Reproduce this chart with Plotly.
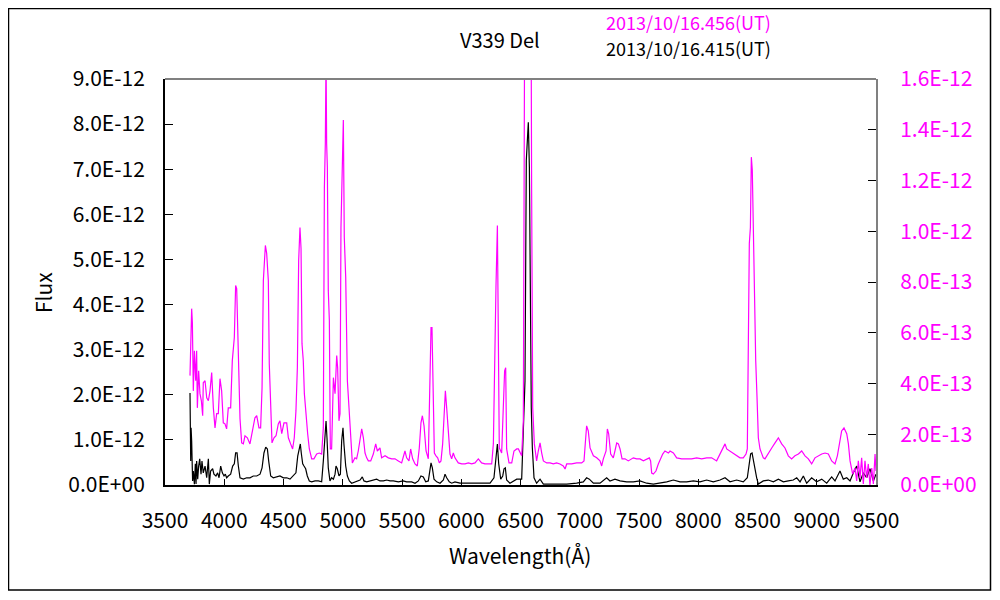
"""V339 Del spectrum, two epochs, left/right flux axes."""

import plotly.graph_objects as go

# magenta spectrum (2013/10/16.456 UT), flux in units of 1e-13 (right axis)
wl_mag = [
    3711, 3717, 3725, 3731, 3739, 3748, 3759, 3767, 3773, 3784, 3795, 3807,
    3818, 3823, 3838, 3852, 3866, 3880, 3894, 3908, 3922, 3936, 3950, 3964,
    3978, 3992, 4006, 4020, 4034, 4054, 4068, 4085, 4096, 4105, 4119, 4133,
    4147, 4161, 4175, 4195, 4217, 4240, 4259, 4274, 4293, 4307, 4319, 4330,
    4347, 4358, 4372, 4380, 4392, 4403, 4420, 4437, 4456, 4470, 4485, 4504,
    4527, 4541, 4560, 4577, 4591, 4605, 4617, 4628, 4639, 4648, 4656, 4667,
    4676, 4687, 4704, 4718, 4738, 4757, 4780, 4802, 4822, 4836, 4845, 4853,
    4859, 4864, 4870, 4878, 4887, 4895, 4906, 4921, 4935, 4949, 4957, 4968,
    4977, 4985, 4994, 5005, 5013, 5025, 5039, 5053, 5067, 5081, 5103, 5117,
    5131, 5146, 5160, 5174, 5188, 5202, 5216, 5236, 5258, 5278, 5292, 5314,
    5328, 5357, 5385, 5413, 5441, 5469, 5497, 5525, 5539, 5559, 5573, 5590,
    5610, 5629, 5646, 5660, 5672, 5686, 5703, 5722, 5736, 5745, 5753, 5762,
    5773, 5787, 5801, 5815, 5829, 5843, 5857, 5866, 5877, 5891, 5905, 5919,
    5933, 5947, 5975, 6004, 6032, 6060, 6088, 6116, 6144, 6172, 6200, 6229,
    6257, 6271, 6285, 6293, 6305, 6313, 6321, 6341, 6355, 6366, 6375, 6383,
    6403, 6426, 6445, 6468, 6482, 6510, 6524, 6535, 6550, 6563, 6575, 6585,
    6594, 6603, 6617, 6636, 6650, 6665, 6679, 6693, 6721, 6749, 6777, 6805,
    6833, 6861, 6876, 6890, 6932, 6974, 7016, 7036, 7044, 7058, 7072, 7087,
    7115, 7143, 7171, 7185, 7199, 7222, 7233, 7244, 7261, 7283, 7297, 7312,
    7326, 7340, 7357, 7382, 7410, 7452, 7480, 7508, 7537, 7565, 7587, 7598,
    7607, 7621, 7643, 7663, 7683, 7700, 7719, 7748, 7762, 7790, 7818, 7860,
    7902, 7944, 7987, 8029, 8071, 8113, 8155, 8184, 8206, 8226, 8240, 8268,
    8296, 8324, 8352, 8380, 8403, 8414, 8423, 8431, 8440, 8448, 8456, 8465,
    8473, 8485, 8496, 8507, 8521, 8535, 8549, 8563, 8591, 8620, 8648, 8676,
    8704, 8732, 8760, 8788, 8816, 8845, 8873, 8901, 8929, 8957, 8985, 9013,
    9042, 9070, 9098, 9126, 9154, 9174, 9191, 9210, 9230, 9253, 9267, 9281,
    9303, 9323, 9337, 9351, 9365, 9379, 9393, 9407, 9421, 9435, 9449, 9464,
    9478, 9492, 9500,
]
flux_mag = [
    4.31, 6.20, 6.95, 6.40, 3.71, 5.29, 4.11, 5.29, 3.04, 4.50, 3.60, 3.32,
    2.73, 4.03, 4.11, 3.44, 3.32, 3.71, 4.43, 3.04, 2.25, 2.81, 2.81, 4.19,
    3.71, 2.45, 2.41, 2.21, 3.04, 3.04, 4.90, 5.81, 7.86, 7.74, 5.02, 2.61,
    1.66, 1.62, 1.94, 1.86, 1.62, 2.25, 2.65, 2.73, 2.25, 2.25, 3.83, 8.06,
    9.44, 9.13, 8.06, 4.78, 3.04, 1.66, 1.86, 1.94, 2.41, 2.53, 2.02, 2.45,
    2.45, 1.86, 1.62, 1.42, 1.86, 2.92, 4.62, 8.85, 10.15, 9.32, 5.57, 4.90,
    3.60, 2.92, 2.02, 1.42, 1.03, 1.03, 1.22, 1.26, 1.22, 2.25, 11.73, 13.47,
    17.0, 13.47, 12.52, 7.66, 6.48, 1.42, 1.42, 4.23, 3.60, 5.10, 4.62, 2.53,
    2.81, 10.15, 11.81, 14.38, 9.76, 8.18, 4.11, 3.12, 2.02, 0.87, 1.07, 1.03,
    1.34, 1.82, 2.21, 1.86, 1.26, 1.07, 0.95, 0.95, 1.22, 1.62, 1.34, 1.46,
    1.07, 1.15, 1.07, 1.03, 1.03, 0.95, 0.87, 1.34, 1.07, 0.95, 1.42, 1.03,
    0.83, 0.75, 1.46, 2.45, 2.73, 2.33, 1.34, 1.03, 3.60, 6.20, 6.20, 4.23,
    1.26, 1.15, 1.07, 0.87, 0.95, 1.62, 2.81, 3.71, 3.04, 2.25, 1.22, 1.03,
    1.26, 1.07, 0.87, 0.83, 0.83, 0.87, 0.83, 0.87, 1.03, 0.87, 0.83, 0.83,
    0.83, 1.62, 6.87, 7.78, 10.23, 5.18, 1.46, 1.26, 2.92, 4.50, 4.62, 1.42,
    0.87, 0.87, 1.34, 1.42, 1.42, 1.15, 2.53, 20.0, 40.0, 50.0, 40.0, 25.0,
    11.50, 3.04, 1.62, 0.95, 1.34, 1.66, 1.26, 0.95, 0.87, 0.87, 0.83, 0.87,
    0.83, 0.75, 0.63, 0.83, 0.83, 0.87, 0.87, 0.95, 1.46, 2.33, 2.13, 1.46,
    1.15, 1.07, 0.95, 0.75, 1.03, 1.34, 2.21, 2.02, 1.22, 1.07, 1.34, 1.66,
    1.62, 1.42, 1.03, 1.03, 0.95, 1.07, 1.03, 1.03, 0.95, 1.03, 1.07, 0.95,
    0.47, 0.43, 0.55, 0.83, 1.03, 1.22, 1.34, 1.26, 1.34, 1.26, 1.07, 1.03,
    1.03, 1.03, 1.07, 1.03, 1.07, 1.07, 0.95, 1.22, 1.42, 1.62, 1.42, 1.34,
    1.26, 1.15, 1.07, 1.07, 1.22, 1.42, 4.62, 9.52, 10.15, 12.92, 12.41, 9.64,
    6.99, 4.90, 3.44, 1.86, 1.42, 1.22, 1.07, 1.03, 1.26, 1.46, 1.66, 1.86,
    1.62, 1.46, 1.15, 1.03, 1.15, 1.22, 1.34, 1.15, 1.03, 0.83, 1.07, 1.15,
    1.22, 1.26, 1.22, 0.95, 0.83, 1.15, 1.62, 2.13, 2.25, 2.02, 1.62, 0.95,
    0.43, 0.67, 0.16, 0.95, 0.28, 1.07, 0.04, 0.95, 0.28, 0.83, 0.00, 0.67,
    0.04, 1.22, 0.55,
]

# black spectrum (2013/10/16.415 UT), flux in units of 1e-12 (left axis)
wl_blk = [
    3711, 3717, 3720, 3725, 3733, 3739, 3748, 3756, 3762, 3767, 3776, 3784,
    3793, 3804, 3812, 3823, 3838, 3852, 3866, 3874, 3885, 3902, 3913, 3930,
    3944, 3956, 3970, 3984, 3998, 4009, 4020, 4034, 4054, 4071, 4085, 4096,
    4108, 4119, 4133, 4161, 4189, 4217, 4245, 4274, 4302, 4319, 4335, 4350,
    4364, 4375, 4392, 4414, 4442, 4470, 4499, 4527, 4555, 4583, 4605, 4620,
    4634, 4642, 4650, 4662, 4673, 4687, 4701, 4718, 4738, 4766, 4794, 4822,
    4836, 4850, 4859, 4867, 4878, 4892, 4906, 4921, 4935, 4943, 4954, 4968,
    4980, 4991, 5002, 5010, 5025, 5039, 5056, 5075, 5103, 5146, 5165, 5179,
    5202, 5230, 5258, 5286, 5314, 5343, 5371, 5399, 5427, 5469, 5511, 5539,
    5582, 5610, 5638, 5660, 5680, 5700, 5722, 5736, 5745, 5756, 5770, 5793,
    5821, 5849, 5863, 5877, 5899, 5919, 5947, 5989, 6032, 6074, 6130, 6186,
    6243, 6276, 6293, 6305, 6316, 6333, 6350, 6361, 6372, 6383, 6411, 6440,
    6468, 6510, 6524, 6538, 6549, 6558, 6566, 6575, 6583, 6591, 6600, 6614,
    6636, 6665, 6693, 6749, 6819, 6890, 6974, 7030, 7058, 7081, 7115, 7171,
    7227, 7255, 7297, 7340, 7396, 7452, 7508, 7565, 7621, 7677, 7734, 7790,
    7846, 7902, 7959, 8015, 8071, 8127, 8184, 8226, 8268, 8324, 8380, 8414,
    8428, 8442, 8454, 8465, 8479, 8493, 8507, 8549, 8591, 8634, 8676, 8718,
    8760, 8802, 8831, 8859, 8887, 8915, 8957, 8999, 9042, 9084, 9126, 9154,
    9196, 9224, 9253, 9281, 9309, 9337, 9365, 9393, 9421, 9449, 9478, 9500,
]
flux_blk = [
    2.04, 0.53, 1.27, 0.98, 0.09, 0.31, 0.02, 0.47, 0.02, 0.53, 0.13, 0.42,
    0.58, 0.24, 0.53, 0.27, 0.42, 0.16, 0.58, 0.02, 0.31, 0.36, 0.24, 0.20,
    0.27, 0.16, 0.42, 0.27, 0.20, 0.24, 0.16, 0.20, 0.24, 0.42, 0.47, 0.71,
    0.71, 0.42, 0.16, 0.13, 0.16, 0.16, 0.20, 0.20, 0.24, 0.38, 0.71, 0.84,
    0.80, 0.53, 0.20, 0.16, 0.18, 0.20, 0.16, 0.16, 0.13, 0.20, 0.27, 0.64,
    0.80, 0.91, 0.71, 0.47, 0.42, 0.36, 0.20, 0.09, 0.07, 0.09, 0.09, 0.07,
    0.53, 1.24, 1.42, 1.04, 0.38, 0.09, 0.16, 0.13, 0.24, 0.42, 0.36, 0.20,
    0.24, 0.98, 1.27, 0.91, 0.42, 0.20, 0.09, 0.04, 0.07, 0.11, 0.18, 0.09,
    0.07, 0.09, 0.11, 0.13, 0.09, 0.09, 0.11, 0.09, 0.09, 0.07, 0.09, 0.07,
    0.07, 0.04, 0.09, 0.20, 0.18, 0.07, 0.09, 0.31, 0.49, 0.38, 0.13, 0.07,
    0.04, 0.11, 0.24, 0.16, 0.07, 0.04, 0.07, 0.04, 0.04, 0.04, 0.04, 0.04,
    0.04, 0.16, 0.69, 0.91, 0.47, 0.13, 0.20, 0.36, 0.38, 0.11, 0.04, 0.09,
    0.13, 0.13, 1.42, 2.31, 7.20, 7.64, 8.04, 7.04, 3.71, 1.71, 0.82, 0.16,
    0.04, 0.13, 0.02, 0.02, 0.02, 0.02, 0.04, 0.07, 0.16, 0.13, 0.04, 0.04,
    0.16, 0.09, 0.13, 0.09, 0.07, 0.07, 0.09, 0.04, 0.02, 0.04, 0.07, 0.11,
    0.07, 0.07, 0.09, 0.07, 0.11, 0.07, 0.11, 0.16, 0.07, 0.11, 0.07, 0.16,
    0.42, 0.69, 0.71, 0.53, 0.31, 0.16, 0.02, 0.09, 0.11, 0.07, 0.13, 0.07,
    0.09, 0.11, 0.16, 0.07, 0.20, 0.04, 0.16, 0.07, 0.13, 0.04, 0.18, 0.09,
    0.31, 0.13, 0.16, 0.09, 0.27, 0.42, 0.07, 0.27, 0.16, 0.36, 0.09, 0.24,
]

x_ticks = [3500, 4000, 4500, 5000, 5500, 6000, 6500, 7000, 7500, 8000, 8500, 9000, 9500]
y_left_ticks = [0, 1, 2, 3, 4, 5, 6, 7, 8, 9]  # x 1e-12
y_left_text = ["0.0E+00", "1.0E-12", "2.0E-12", "3.0E-12", "4.0E-12",
               "5.0E-12", "6.0E-12", "7.0E-12", "8.0E-12", "9.0E-12"]
y_right_ticks = [0, 2, 4, 6, 8, 10, 12, 14, 16]  # x 1e-13
y_right_text = ["0.0E+00", "2.0E-13", "4.0E-13", "6.0E-13", "8.0E-13",
                "1.0E-12", "1.2E-12", "1.4E-12", "1.6E-12"]

title_text = "V339 Del"
label_mag = "2013/10/16.456(UT)"
label_blk = "2013/10/16.415(UT)"

MAG = "#ff00ff"
FONT = "Noto Sans CJK JP"

# page is drawn with an 8px body margin, so work in page pixels and shift
OFF = 8
W, H = 984, 584
L, R, T, B = 165 - OFF, 876 - OFF, 79 - OFF, 485 - OFF


def px(x):
    return (x - OFF - L) / (R - L)


def py(y):
    return (B - (y - OFF)) / (B - T)


def label(text, x, y, **kw):
    fig.add_annotation(text=text, xref="paper", yref="paper", x=px(x), y=py(y),
                       xanchor=kw.pop("xanchor", "center"), yanchor="middle",
                       showarrow=False, **kw)


fig = go.Figure()
fig.add_trace(go.Scatter(
    x=wl_mag, y=[v * 1e-13 for v in flux_mag], mode="lines",
    line=dict(color=MAG, width=1.2), yaxis="y2", showlegend=False,
))
fig.add_trace(go.Scatter(
    x=wl_blk, y=[v * 1e-12 for v in flux_blk], mode="lines",
    line=dict(color="black", width=1.2), showlegend=False,
))

fig.update_layout(
    width=W, height=H,
    margin=dict(l=L, r=W - R, t=T, b=H - B),
    paper_bgcolor="white", plot_bgcolor="white",
    font=dict(family=FONT, size=21, color="black"),
    xaxis=dict(
        range=[3500, 9500], tickvals=x_ticks, ticks="inside", ticklen=6,
        tickcolor="black", showline=True, linecolor="black", linewidth=2,
        showgrid=False, zeroline=False, ticklabelstandoff=16,
    ),
    yaxis=dict(
        range=[0, 9e-12], tickvals=[v * 1e-12 for v in y_left_ticks],
        ticktext=y_left_text, ticks="inside", ticklen=8, tickcolor="black",
        showline=True, linecolor="black", linewidth=2, showgrid=False,
        zeroline=False, ticklabelstandoff=14,
    ),
    yaxis2=dict(
        range=[0, 1.6e-12], tickvals=[v * 1e-13 for v in y_right_ticks],
        ticktext=y_right_text, overlaying="y", side="right",
        ticks="inside", ticklen=8, tickcolor="black",
        showline=True, linecolor="#808080", linewidth=2, showgrid=False,
        zeroline=False, tickfont=dict(color=MAG), ticklabelstandoff=18,
    ),
)

# top frame line (grey) and outer border
fig.add_shape(type="line", xref="paper", yref="paper", x0=0, x1=1, y0=1, y1=1,
              line=dict(color="#808080", width=2))
fig.add_shape(type="rect", xref="paper", yref="paper",
              x0=px(8.5), x1=px(990.5), y0=py(590), y1=py(8.5),
              line=dict(color="black", width=1.5))

label(title_text, 500, 40, font=dict(size=20))
label(label_mag, 604, 22, xanchor="left", font=dict(size=18, color=MAG))
label(label_blk, 604, 48, xanchor="left", font=dict(size=18))
label("Flux", 43, 293, textangle=-90, font=dict(size=21))
label("Wavelength(Å)", 520, 555, font=dict(size=21))

fig.write_html("out.html")
